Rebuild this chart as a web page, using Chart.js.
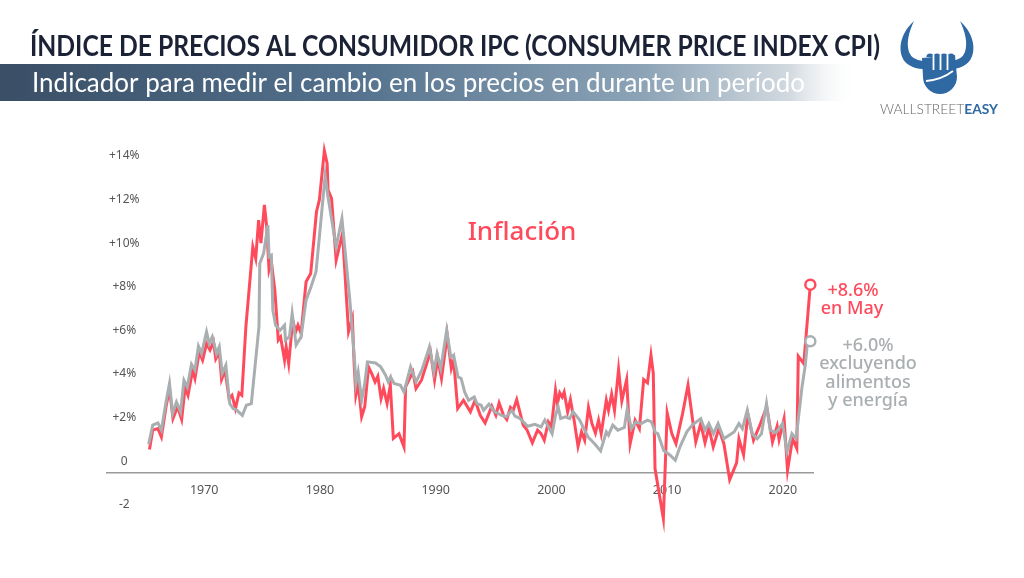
<!DOCTYPE html>
<html>
<head>
<meta charset="utf-8">
<script src="https://cdn.jsdelivr.net/npm/chart.js@4.4.1/dist/chart.umd.min.js"></script>
<style>
  html, body { margin: 0; padding: 0; background: #fff; }
  #wrap { width: 1024px; height: 578px; position: relative; }
</style>
</head>
<body>
<div id="wrap"><canvas id="cpiChart"></canvas></div>
<script>
// headline CPI, year-over-year % (red)
const cpiYears = [1965.27,1965.55,1966.0,1966.3,1966.7,1967.0,1967.3,1967.7,1968.05,1968.35,1968.6,1969.0,1969.2,1969.57,1969.86,
  1970.2,1970.5,1970.8,1971.0,1971.3,1971.5,1971.8,1972.15,1972.4,1972.7,1973.0,1973.25,1973.6,1974.2,1974.45,1974.7,1974.9,
  1975.2,1975.4,1975.6,1975.8,1976.1,1976.4,1976.6,1976.94,1977.08,1977.3,1977.65,1977.9,1978.1,1978.37,1978.8,1979.2,1979.7,1979.95,
  1980.38,1980.62,1980.7,1981.0,1981.4,1981.95,1982.3,1982.47,1982.8,1982.96,1983.1,1983.3,1983.6,1983.87,1984.2,1984.53,1984.76,
  1985.0,1985.28,1985.5,1985.8,1986.08,1986.34,1986.83,1987.26,1987.4,1988.03,1988.3,1988.77,1989.55,1989.9,
  1990.18,1990.5,1991.0,1991.35,1991.55,1991.9,1992.4,1993.0,1993.4,1993.85,1994.27,1994.85,1995.2,1995.48,1995.86,1996.14,1996.46,1996.7,
  1997.0,1997.56,1997.9,1998.35,1998.8,1999.1,1999.38,1999.73,2000.0,2000.35,2000.52,2000.72,2000.93,2001.1,2001.4,2001.64,2001.96,
  2002.3,2002.6,2002.87,2003.2,2003.5,2003.8,2004.07,2004.3,2004.74,2004.93,2005.2,2005.45,2005.8,2006.08,2006.5,2006.8,
  2007.23,2007.6,2007.97,2008.3,2008.6,2008.8,2008.95,2009.67,2010.0,2010.4,2010.76,2011.33,2011.8,2012.2,2012.47,2012.9,
  2013.27,2013.6,2013.98,2014.46,2014.9,2015.4,2016.0,2016.2,2016.6,2016.97,2017.46,2018.04,2018.6,2019.1,2019.5,2019.67,
  2020.1,2020.4,2020.83,2021.2,2021.33,2021.8,2022.37];
const cpiValues = [1.04,1.93,2.0,1.62,3.0,3.84,2.46,3.0,2.42,3.9,3.53,4.68,4.3,5.52,5.14,
  5.9,5.6,5.98,5.2,5.5,4.25,4.68,3.38,3.53,2.92,3.64,3.53,6.67,10.33,9.8,11.56,10.5,
  12.25,11.25,9.27,9.65,8.35,6.06,6.2,5.14,5.75,4.98,6.97,6.44,6.74,6.36,8.73,9.11,11.94,12.48,
  14.74,14.16,12.94,12.55,9.72,10.95,7.9,6.44,7.05,4.9,3.53,4.07,2.54,3.0,4.83,4.45,4.14,
  4.4,3.38,3.84,3.15,3.99,1.55,1.77,1.16,3.91,4.6,3.84,4.22,5.52,4.22,
  5.21,4.3,6.28,4.76,5.14,2.92,3.3,2.77,3.3,2.61,2.26,3.03,2.61,3.18,2.61,2.42,2.97,2.84,
  3.33,2.16,1.93,1.35,1.93,1.77,1.47,2.31,2.08,3.76,3.15,3.64,3.45,3.68,2.77,3.33,2.39,
  1.19,1.85,1.47,2.97,2.23,1.8,2.39,1.77,3.3,2.84,3.58,2.84,4.71,3.27,4.25,1.31,
  2.39,2.0,4.25,4.1,5.37,4.53,0.17,-2.12,2.72,1.77,1.31,2.69,3.99,2.39,1.39,2.23,
  1.35,2.05,1.16,2.0,1.31,-0.34,0.43,1.54,0.8,2.66,1.47,2.2,3.0,1.39,2.11,1.5,
  2.46,0.09,1.54,1.09,5.32,4.98,8.6];

// core CPI, excluding food and energy (grey)
const coreYears = [1965.2,1965.55,1966.0,1966.3,1966.7,1967.0,1967.27,1967.6,1967.96,1968.25,1968.54,1968.9,1969.2,1969.5,1969.77,
  1970.2,1970.43,1970.7,1971.06,1971.3,1971.55,1971.87,1972.2,1972.5,1972.8,1973.3,1973.64,1974.07,1974.73,1974.8,
  1975.13,1975.5,1975.6,1975.8,1975.93,1976.17,1976.56,1976.94,1977.02,1977.37,1977.6,1977.94,1978.37,1978.8,1979.23,1979.66,1979.95,
  1980.45,1980.7,1981.4,1981.9,1982.58,1983.0,1983.1,1983.3,1983.6,1983.87,1984.1,1984.8,1985.25,1985.67,1985.9,
  1986.1,1986.4,1986.96,1987.26,1987.83,1988.3,1988.8,1989.46,1989.84,1990.12,1990.44,1990.95,1991.3,1991.55,1991.93,
  1992.2,1992.5,1992.84,1993.33,1993.56,1993.93,1994.14,1994.6,1995.1,1995.7,1996.1,1996.57,1996.85,1997.3,1997.94,1998.57,
  1999.1,1999.43,2000.06,2000.35,2000.58,2000.8,2001.2,2001.58,2001.87,2002.44,2003.16,2003.73,2004.25,2004.74,2004.93,
  2005.3,2005.74,2006.3,2006.55,2006.9,2007.3,2007.75,2008.3,2008.65,2009.0,2009.2,2009.7,2010.26,2010.7,2011.1,2011.7,
  2012.16,2012.9,2013.27,2013.6,2014.0,2014.4,2014.9,2015.35,2015.78,2016.2,2016.5,2016.92,2017.35,2017.78,2018.15,2018.58,
  2018.9,2019.4,2019.97,2020.35,2020.78,2021.14,2021.65,2021.93,2022.13,2022.37];
const coreValues = [1.28,2.16,2.26,1.93,3.22,4.07,2.69,3.22,2.77,4.22,3.91,4.95,4.68,5.78,5.44,
  6.44,5.9,6.21,5.44,5.75,4.53,4.91,3.15,2.92,2.85,2.61,3.07,3.15,6.67,9.57,
  10.03,11.33,9.88,9.95,7.43,6.74,6.51,6.74,6.06,6.21,7.28,5.83,6.21,7.89,8.5,9.19,10.79,
  13.6,12.6,10.33,11.63,7.9,5.06,4.07,4.6,3.3,4.07,5.06,5.01,4.83,4.45,4.14,
  4.37,4.07,3.99,3.68,4.83,4.14,4.68,5.75,4.6,5.44,4.76,6.51,5.29,5.37,4.37,
  4.3,3.68,3.3,3.45,3.15,3.07,2.84,3.12,2.77,2.61,2.54,2.84,2.57,2.46,2.11,2.2,
  2.08,2.39,1.77,2.61,3.0,2.46,2.54,2.46,2.77,2.39,1.62,1.31,0.98,1.85,1.7,
  2.16,1.93,2.05,2.9,2.0,2.3,2.23,2.39,2.31,1.8,1.77,1.0,0.78,0.55,1.16,1.85,
  2.16,2.46,1.93,2.23,1.77,2.23,1.54,1.7,1.85,2.23,2.0,2.84,1.77,1.54,1.77,3.15,
  1.93,1.82,2.23,0.93,1.77,1.54,3.91,4.9,5.98,6.0];

const xTickYears = [1970, 1980, 1990, 2000, 2010, 2020];
const yTickValues = [-2, 0, 2, 4, 6, 8, 10, 12, 14];
const yTickLabels = ['-2', '0', '+2%', '+4%', '+6%', '+8%', '+10%', '+12%', '+14%'];

const RED = '#ff4a5c';
const GREY = '#a9aeb1';
const LOGO_BLUE = '#2f69a3';

function toPoints(xs, ys) {
    return xs.map((x, i) => ({ x: x, y: ys[i] }));
}

// draws text squeezed/stretched to an exact width
function fitText(ctx, text, x, y, width, font, color) {
    ctx.save();
    ctx.font = font;
    ctx.fillStyle = color;
    ctx.textBaseline = 'alphabetic';
    ctx.textAlign = 'left';
    const w = ctx.measureText(text).width;
    ctx.translate(x, y);
    ctx.scale(width / w, 1);
    ctx.fillText(text, 0, 0);
    ctx.restore();
}

// one horn of the logo, mirrored with dir = -1
function drawHorn(ctx, cx, dir) {
    const px = dx => cx + dir * dx;
    ctx.beginPath();
    ctx.moveTo(px(-23), 21);
    ctx.bezierCurveTo(px(-40), 36, px(-40), 58, px(-28), 65);
    ctx.quadraticCurveTo(px(-22), 69, px(-14), 69);
    ctx.lineTo(px(-14), 61);
    ctx.quadraticCurveTo(px(-25), 60, px(-28), 52);
    ctx.bezierCurveTo(px(-31), 42, px(-28), 32, px(-23), 21);
    ctx.closePath();
    ctx.fill();
}

const decorPlugin = {
    id: 'decor',
    beforeDraw(chart) {
        const ctx = chart.ctx;
        ctx.save();
        ctx.fillStyle = '#fff';
        ctx.fillRect(0, 0, chart.width, chart.height);

        // banner
        const g = ctx.createLinearGradient(0, 0, 860, 0);
        g.addColorStop(0, '#3a4e66');
        g.addColorStop(0.4, '#52708c');
        g.addColorStop(0.75, '#8da4b7');
        g.addColorStop(0.92, '#d3dae0');
        g.addColorStop(1, 'rgba(255,255,255,0)');
        ctx.fillStyle = g;
        ctx.fillRect(0, 64, 860, 37);
        ctx.restore();

        fitText(ctx, 'ÍNDICE DE PRECIOS AL CONSUMIDOR IPC (CONSUMER PRICE INDEX CPI)', 30, 56, 850, 'bold 29px Lato', '#1b2236');
        fitText(ctx, 'Indicador para medir el cambio en los precios en durante un período', 32, 92, 773, '27px Lato', '#ffffff');

        // logo: horns + fist
        ctx.save();
        ctx.fillStyle = LOGO_BLUE;
        drawHorn(ctx, 937, 1);
        drawHorn(ctx, 937, -1);
        ctx.beginPath();
        ctx.moveTo(922, 58);
        ctx.lineTo(955, 55);
        ctx.lineTo(957, 77);
        ctx.arc(940, 77, 17, 0, Math.PI, false);
        ctx.closePath();
        ctx.fill();
        // finger tops
        [927, 934, 941, 948].forEach(fx => {
            ctx.beginPath();
            ctx.arc(fx + 3, 57, 3.6, Math.PI, 0);
            ctx.fill();
        });
        ctx.strokeStyle = '#fff';
        ctx.lineWidth = 1.8;
        [930, 937, 944].forEach(fx => {
            ctx.beginPath();
            ctx.moveTo(fx + 3.5, 55);
            ctx.lineTo(fx + 3.5, 70);
            ctx.stroke();
        });
        ctx.beginPath();
        ctx.moveTo(926, 81);
        ctx.quadraticCurveTo(941, 80, 953, 71);
        ctx.stroke();
        ctx.restore();

        ctx.save();
        ctx.font = '300 14px Lato';
        ctx.textBaseline = 'alphabetic';
        const w1 = ctx.measureText('WALLSTREET').width;
        ctx.font = 'bold 14px Lato';
        const w2 = ctx.measureText('EASY').width;
        const s = 118 / (w1 + w2);
        ctx.translate(880, 114);
        ctx.scale(s, 1);
        ctx.font = '300 14px Lato';
        ctx.fillStyle = '#666';
        ctx.fillText('WALLSTREET', 0, 0);
        ctx.font = 'bold 14px Lato';
        ctx.fillStyle = LOGO_BLUE;
        ctx.fillText('EASY', w1, 0);
        ctx.restore();
    },
    afterDraw(chart) {
        const ctx = chart.ctx;
        ctx.save();
        ctx.textAlign = 'center';
        ctx.textBaseline = 'middle';
        ctx.fillStyle = RED;
        ctx.font = '500 26px "Noto Sans"';
        ctx.fillText('Inflación', 522, 233);
        ctx.font = '500 18px "Noto Sans"';
        ctx.fillText('+8.6%', 853, 291);
        ctx.fillText('en May', 852, 309);
        ctx.fillStyle = GREY;
        ctx.fillText('+6.0%', 868, 346);
        ctx.fillText('excluyendo', 868, 364);
        ctx.fillText('alimentos', 868, 383);
        ctx.fillText('y energía', 868, 401);
        ctx.restore();
    }
};

function endPointRadius(ctx) {
    return ctx.dataIndex === ctx.dataset.data.length - 1 ? 5 : 0;
}

const canvas = document.getElementById('cpiChart');
new Chart(canvas.getContext('2d'), {
    type: 'line',
    data: {
        datasets: [
            {
                label: 'IPC subyacente',
                data: toPoints(coreYears, coreValues),
                borderColor: GREY,
                borderWidth: 3,
                pointRadius: endPointRadius,
                pointBackgroundColor: '#fff',
                pointBorderColor: GREY,
                pointBorderWidth: 2.5,
                tension: 0,
                clip: false
            },
            {
                label: 'Inflación',
                data: toPoints(cpiYears, cpiValues),
                borderColor: RED,
                borderWidth: 3,
                pointRadius: endPointRadius,
                pointBackgroundColor: '#fff',
                pointBorderColor: RED,
                pointBorderWidth: 2.5,
                tension: 0,
                clip: false
            }
        ]
    },
    options: {
        responsive: true,
        maintainAspectRatio: false,
        animation: false,
        layout: {
            padding: { top: 145, bottom: 49, left: 103, right: 211 }
        },
        plugins: {
            legend: { display: false },
            title: { display: false },
            tooltip: { enabled: false }
        },
        scales: {
            x: {
                type: 'linear',
                min: 1961.6,
                max: 2022.6,
                position: { y: 0 },
                afterBuildTicks: axis => { axis.ticks = xTickYears.map(v => ({ value: v })); },
                grid: { display: true, color: 'transparent', drawTicks: false, tickLength: 0 },
                border: { display: true, color: '#9a9a9a', width: 1.5 },
                ticks: {
                    padding: 11,
                    color: '#555',
                    font: { family: '"Noto Sans"', size: 12.5 },
                    callback: v => String(v)
                }
            },
            y: {
                type: 'linear',
                min: -2.6,
                max: 15,
                afterBuildTicks: axis => { axis.ticks = yTickValues.map(v => ({ value: v })); },
                grid: { display: false, drawTicks: false, tickLength: 0 },
                border: { display: false },
                ticks: {
                    mirror: true,
                    crossAlign: 'center',
                    padding: 2,
                    labelOffset: -11,
                    color: '#555',
                    font: { family: '"Noto Sans"', size: 12 },
                    callback: v => yTickLabels[yTickValues.indexOf(v)]
                }
            }
        }
    },
    plugins: [decorPlugin]
});
</script>
</body>
</html>
